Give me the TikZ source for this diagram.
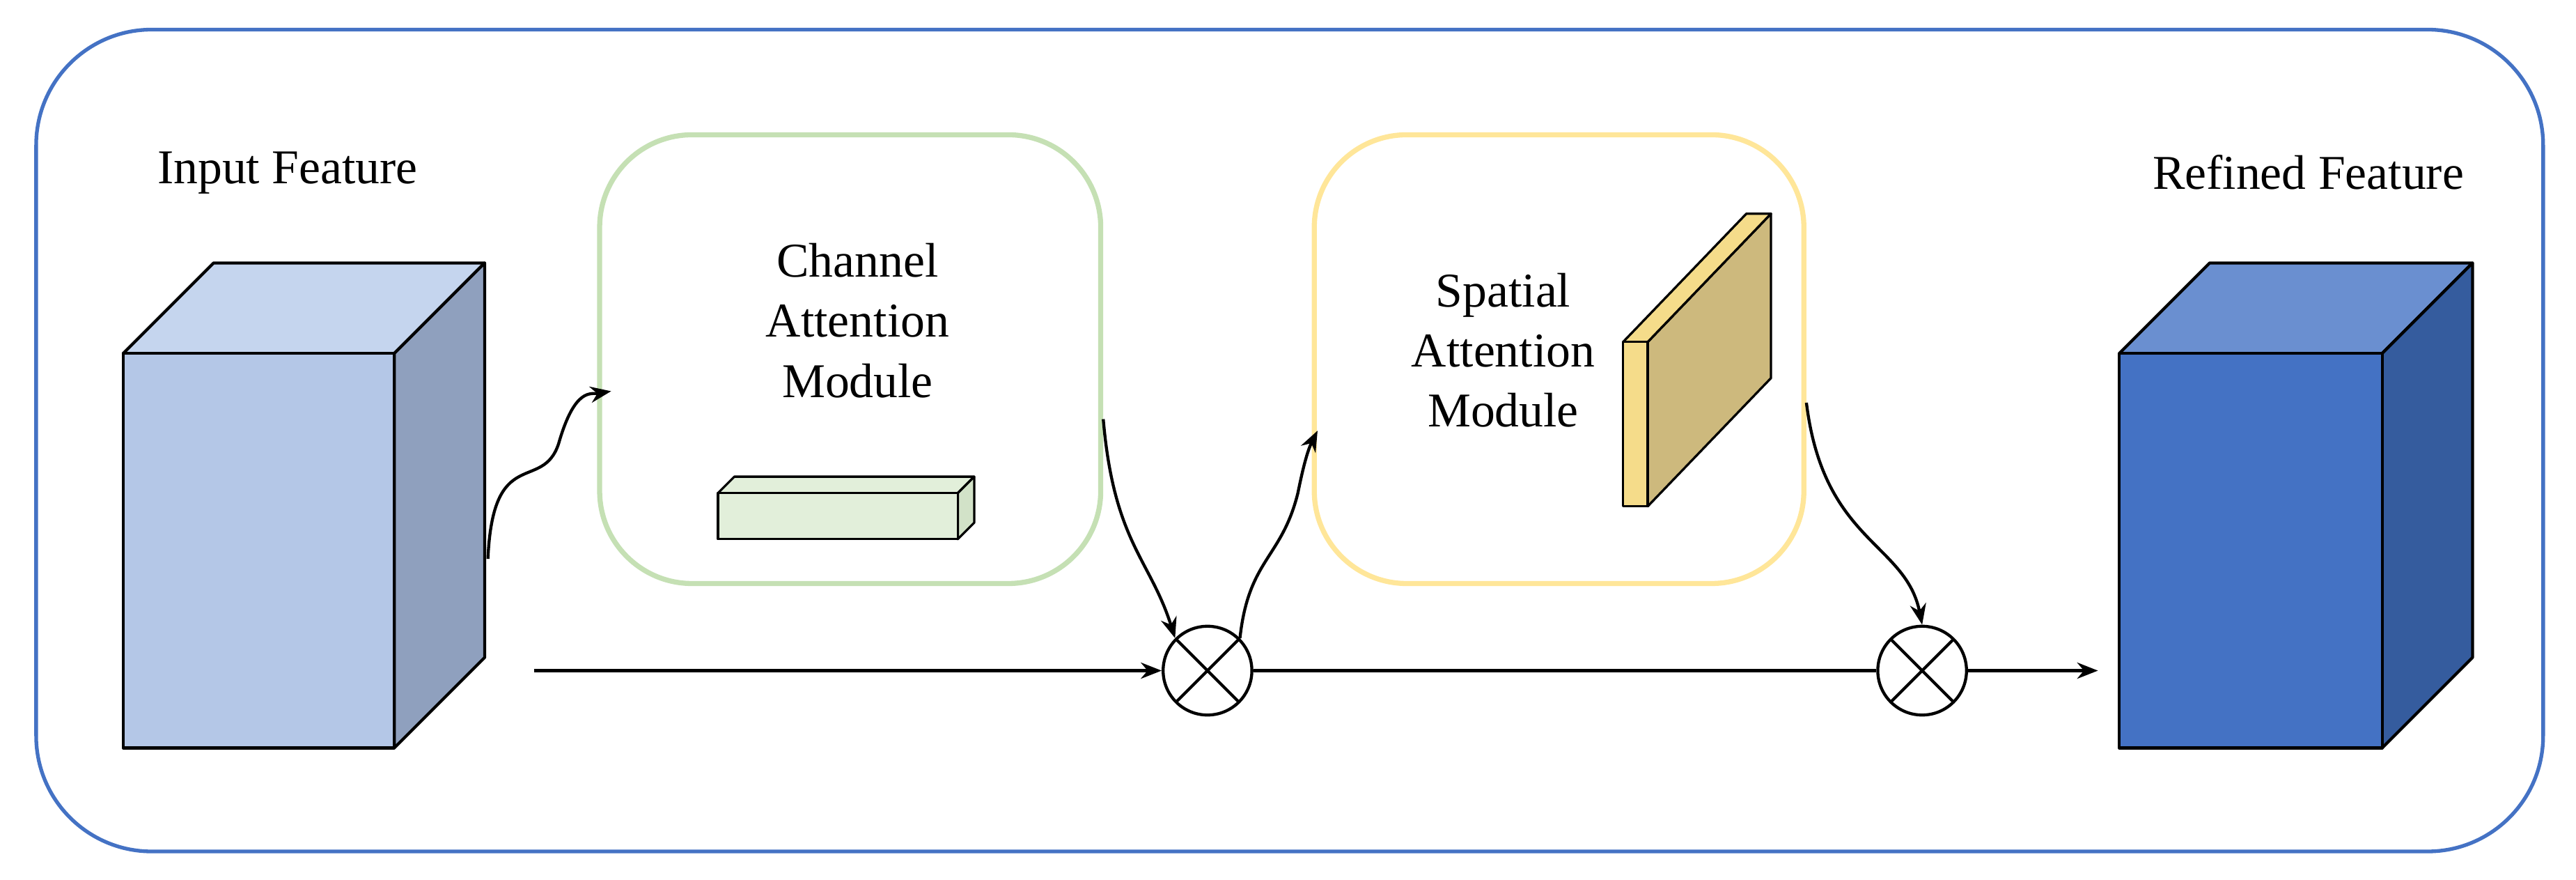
\documentclass[tikz,border=0pt]{standalone}
\usepackage{fontspec}
\setmainfont{Liberation Serif}
\usetikzlibrary{arrows.meta}
\begin{document}
\begin{tikzpicture}[x=0.025cm,y=-0.025cm,
  txt/.style={font=\fontsize{21}{26}\selectfont,align=center},
  arr/.style={line width=1.3pt,-{Stealth[length=9pt,width=7pt]}},
  ln/.style={line width=1.3pt},
  face/.style={draw=black,line width=1.3pt,line join=round},
  mul/.style={circle,draw=black,line width=1.3pt,minimum size=1.35cm,inner sep=0pt,path picture={
    \draw[line width=1.3pt] (path picture bounding box.north west)--(path picture bounding box.south east)
    (path picture bounding box.north east)--(path picture bounding box.south west);}}]
\useasboundingbox (0,0) rectangle (1568,535);
\draw[line width=1.6pt,draw={rgb,255:red,68;green,114;blue,196},rounded corners=50] (22,18) rectangle (1548,518);
% input cube
\filldraw[face,fill={rgb,255:red,197;green,213;blue,238}] (75,215)--(130,160)--(295,160)--(240,215)--cycle;
\filldraw[face,fill={rgb,255:red,143;green,160;blue,190}] (240,215)--(295,160)--(295,400)--(240,455)--cycle;
\filldraw[face,fill={rgb,255:red,180;green,199;blue,231}] (75,215) rectangle (240,455);
\node[txt] (inlab) at (175,105) {Input Feature};
% refined cube
\filldraw[face,fill={rgb,255:red,106;green,143;blue,208}] (1290,215)--(1345,160)--(1505,160)--(1450,215)--cycle;
\filldraw[face,fill={rgb,255:red,53;green,92;blue,158}] (1450,215)--(1505,160)--(1505,400)--(1450,455)--cycle;
\filldraw[face,fill={rgb,255:red,68;green,114;blue,196}] (1290,215) rectangle (1450,455);
\node[txt] (outlab) at (1405,105) {Refined Feature};
% channel box
\node[draw={rgb,255:red,197;green,224;blue,180},line width=2.2pt,rounded corners=40,minimum width=305*0.025cm,minimum height=273*0.025cm] (cam) at (517.5,218.5) {};
\node[txt] (camt) at (522,195) {Channel\\Attention\\Module};
\filldraw[face,line width=1pt,fill={rgb,255:red,226;green,239;blue,218}] (437,300)--(447,290)--(593,290)--(583,300)--cycle;
\filldraw[face,line width=1pt,fill={rgb,255:red,210;green,226;blue,200}] (583,300)--(593,290)--(593,318)--(583,328)--cycle;
\filldraw[face,line width=1pt,fill={rgb,255:red,226;green,239;blue,218}] (437,300) rectangle (583,328);
% spatial box
\node[draw={rgb,255:red,255;green,230;blue,153},line width=2.2pt,rounded corners=40,minimum width=298*0.025cm,minimum height=273*0.025cm] (sam) at (949,218.5) {};
\node[txt] (samt) at (915,213) {Spatial\\Attention\\Module};
\filldraw[face,line width=1pt,fill={rgb,255:red,205;green,185;blue,125}] (1003,208)--(1078,130)--(1078,230)--(1003,308)--cycle;
\filldraw[face,line width=1pt,fill={rgb,255:red,245;green,220;blue,138}] (988,208)--(1063,130)--(1078,130)--(1003,208)--cycle;
\filldraw[face,line width=1pt,fill={rgb,255:red,245;green,220;blue,138}] (988,208) rectangle (1003,308);
% multipliers
\node[mul] (m1) at (735,408) {};
\node[mul] (m2) at (1170,408) {};
\coordinate (s0) at (325,408);
\coordinate (c0) at (297,340);
\coordinate (e3) at (1277,408);
\draw[arr] (s0)--(m1.west);
\draw[ln] (m1.east)--(m2.west);
\draw[arr] (m2.east)--(e3);
\draw[arr] (c0) .. controls (300,270) and (330,300) .. (340,270) .. controls (350,235) and (360,240) .. (372,238);
\draw[arr] (cam.east|-0,255) .. controls (678,330) and (700,340) .. (m1.north west);
\draw[arr] (m1.north east) .. controls (760,340) and (780,340) .. (790,300) .. controls (795,275) and (798,270) .. (802,262);
\draw[arr] (sam.east|-0,245) .. controls (1110,330) and (1160,330) .. (m2.north);
\end{tikzpicture}
\end{document}
